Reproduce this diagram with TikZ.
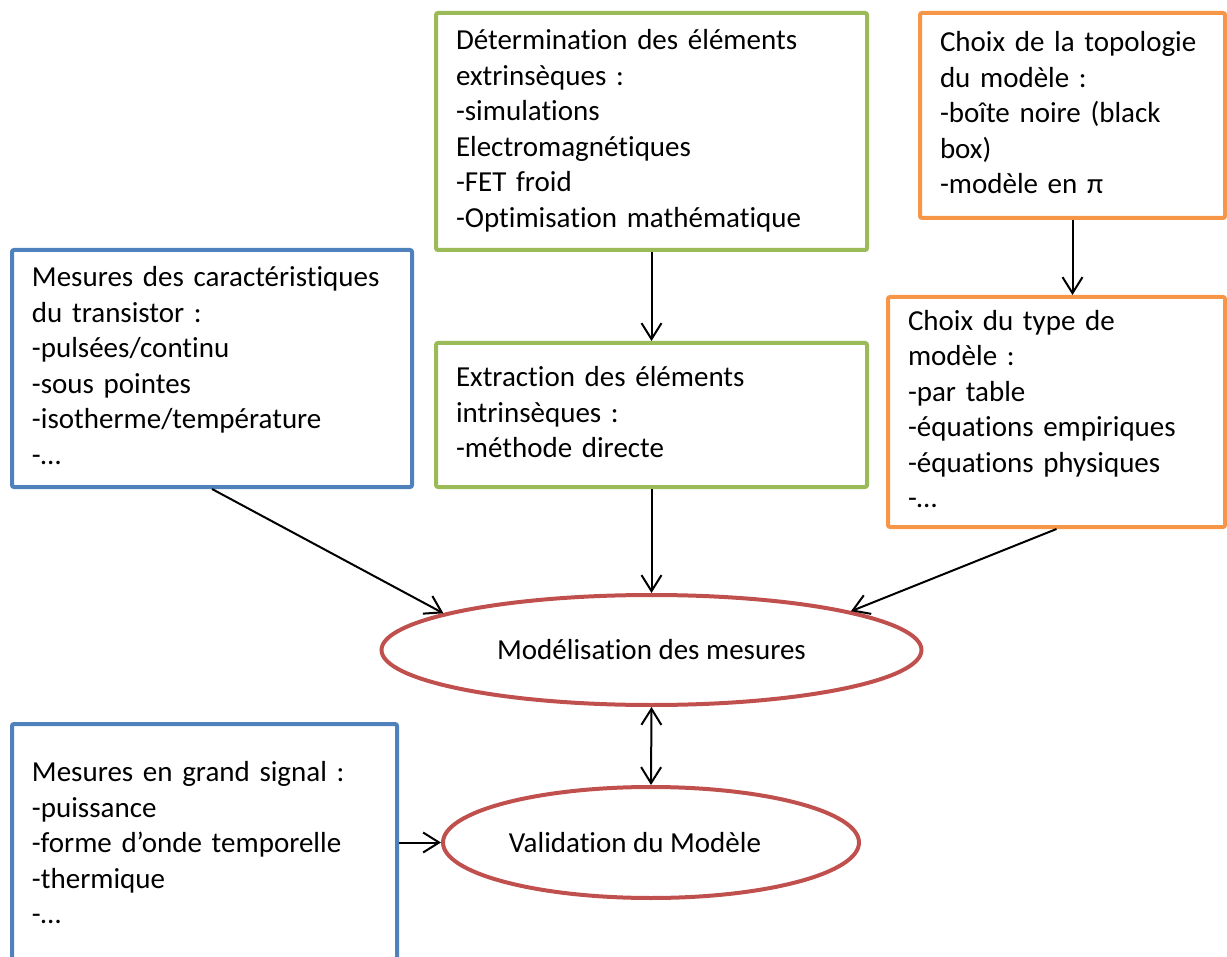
\documentclass[tikz,border=0pt]{standalone}
\usepackage{fontspec}
\setmainfont{Carlito}[Ligatures=NoCommon]
\usepackage{tikz}
\usetikzlibrary{shapes.geometric, arrows.meta}
\definecolor{mesblue}{RGB}{79,129,189}
\definecolor{elemgreen}{RGB}{155,187,89}
\definecolor{choixorange}{RGB}{247,150,70}
\definecolor{modred}{RGB}{192,80,77}

\tikzset{
    box/.style={draw=#1, line width=2pt, rounded corners=1pt, align=left, inner xsep=10pt, inner ysep=2pt,
        execute at begin node=\strut, execute at end node=\strut},
    oval/.style={ellipse, draw=modred, line width=2pt, inner sep=0pt},
    fleche/.style={line width=1pt},
}

\begin{document}
\begin{tikzpicture}[x=0.5pt, y=-0.5pt, font=\fontsize{14.5}{17.75}\selectfont, >={Straight Barb[length=8pt,width=10pt]}]
    \useasboundingbox (0,0) rectangle (1227,957);

    % Boxes
    \node[box=elemgreen, text width=195.5pt, minimum width=215.5pt, minimum height=118.5pt] (determ) at (651.5,131.5)
        {Détermination des éléments\\extrinsèques :\\-simulations\\Electromagnétiques\\-FET froid\\-Optimisation mathématique};
    \node[box=elemgreen, text width=195.5pt, minimum width=215.5pt, minimum height=72pt] (extract) at (651.5,415)
        {Extraction des éléments\\intrinsèques :\\-méthode directe};
    \node[box=choixorange, text width=132.5pt, minimum width=152.5pt, minimum height=102.5pt] (topo) at (1072.5,115.5)
        {Choix de la topologie\\du modèle :\\-boîte noire (black\\box)\\-modèle en π};
    \node[box=choixorange, text width=148.5pt, minimum width=168.5pt, minimum height=115pt] (typemod) at (1056.5,412)
        {Choix du type de\\modèle :\\-par table\\-équations empiriques\\-équations physiques\\-…};
    \node[box=mesblue, text width=180pt, minimum width=200pt, minimum height=118.5pt] (mesures) at (212,368.5)
        {Mesures des caractéristiques\\du transistor :\\-pulsées/continu\\-sous pointes\\-isotherme/température\\-…};
    \node[box=mesblue, text width=172.5pt, minimum width=192.5pt, minimum height=121.5pt] (grand) at (204.5,845.5)
        {Mesures en grand signal :\\-puissance\\-forme d’onde temporelle\\-thermique\\-…};

    % Ellipses
    \node[oval, minimum width=270pt, minimum height=55pt] (modelis) at (651.5,650) {Modélisation des mesures};
    \node[oval, minimum width=208pt, minimum height=55.5pt] (valid) at (651,842.5) {Validation du Modèle\hspace*{16pt}};

    % Arrows
    \draw[fleche, ->] (determ.south) -- (extract.north);
    \draw[fleche, ->] (extract.south) -- (modelis.north);
    \draw[fleche, ->] (topo.south) -- (topo.south |- typemod.north);
    \draw[fleche, ->] (mesures.south) -- (modelis.170);
    \draw[fleche, ->] (typemod.south) -- (modelis.11);
    \draw[fleche, <->] (modelis.south) -- (valid.north);
    \draw[fleche, ->] (grand.east |- valid.west) -- (valid.west);

\end{tikzpicture}
\end{document}
